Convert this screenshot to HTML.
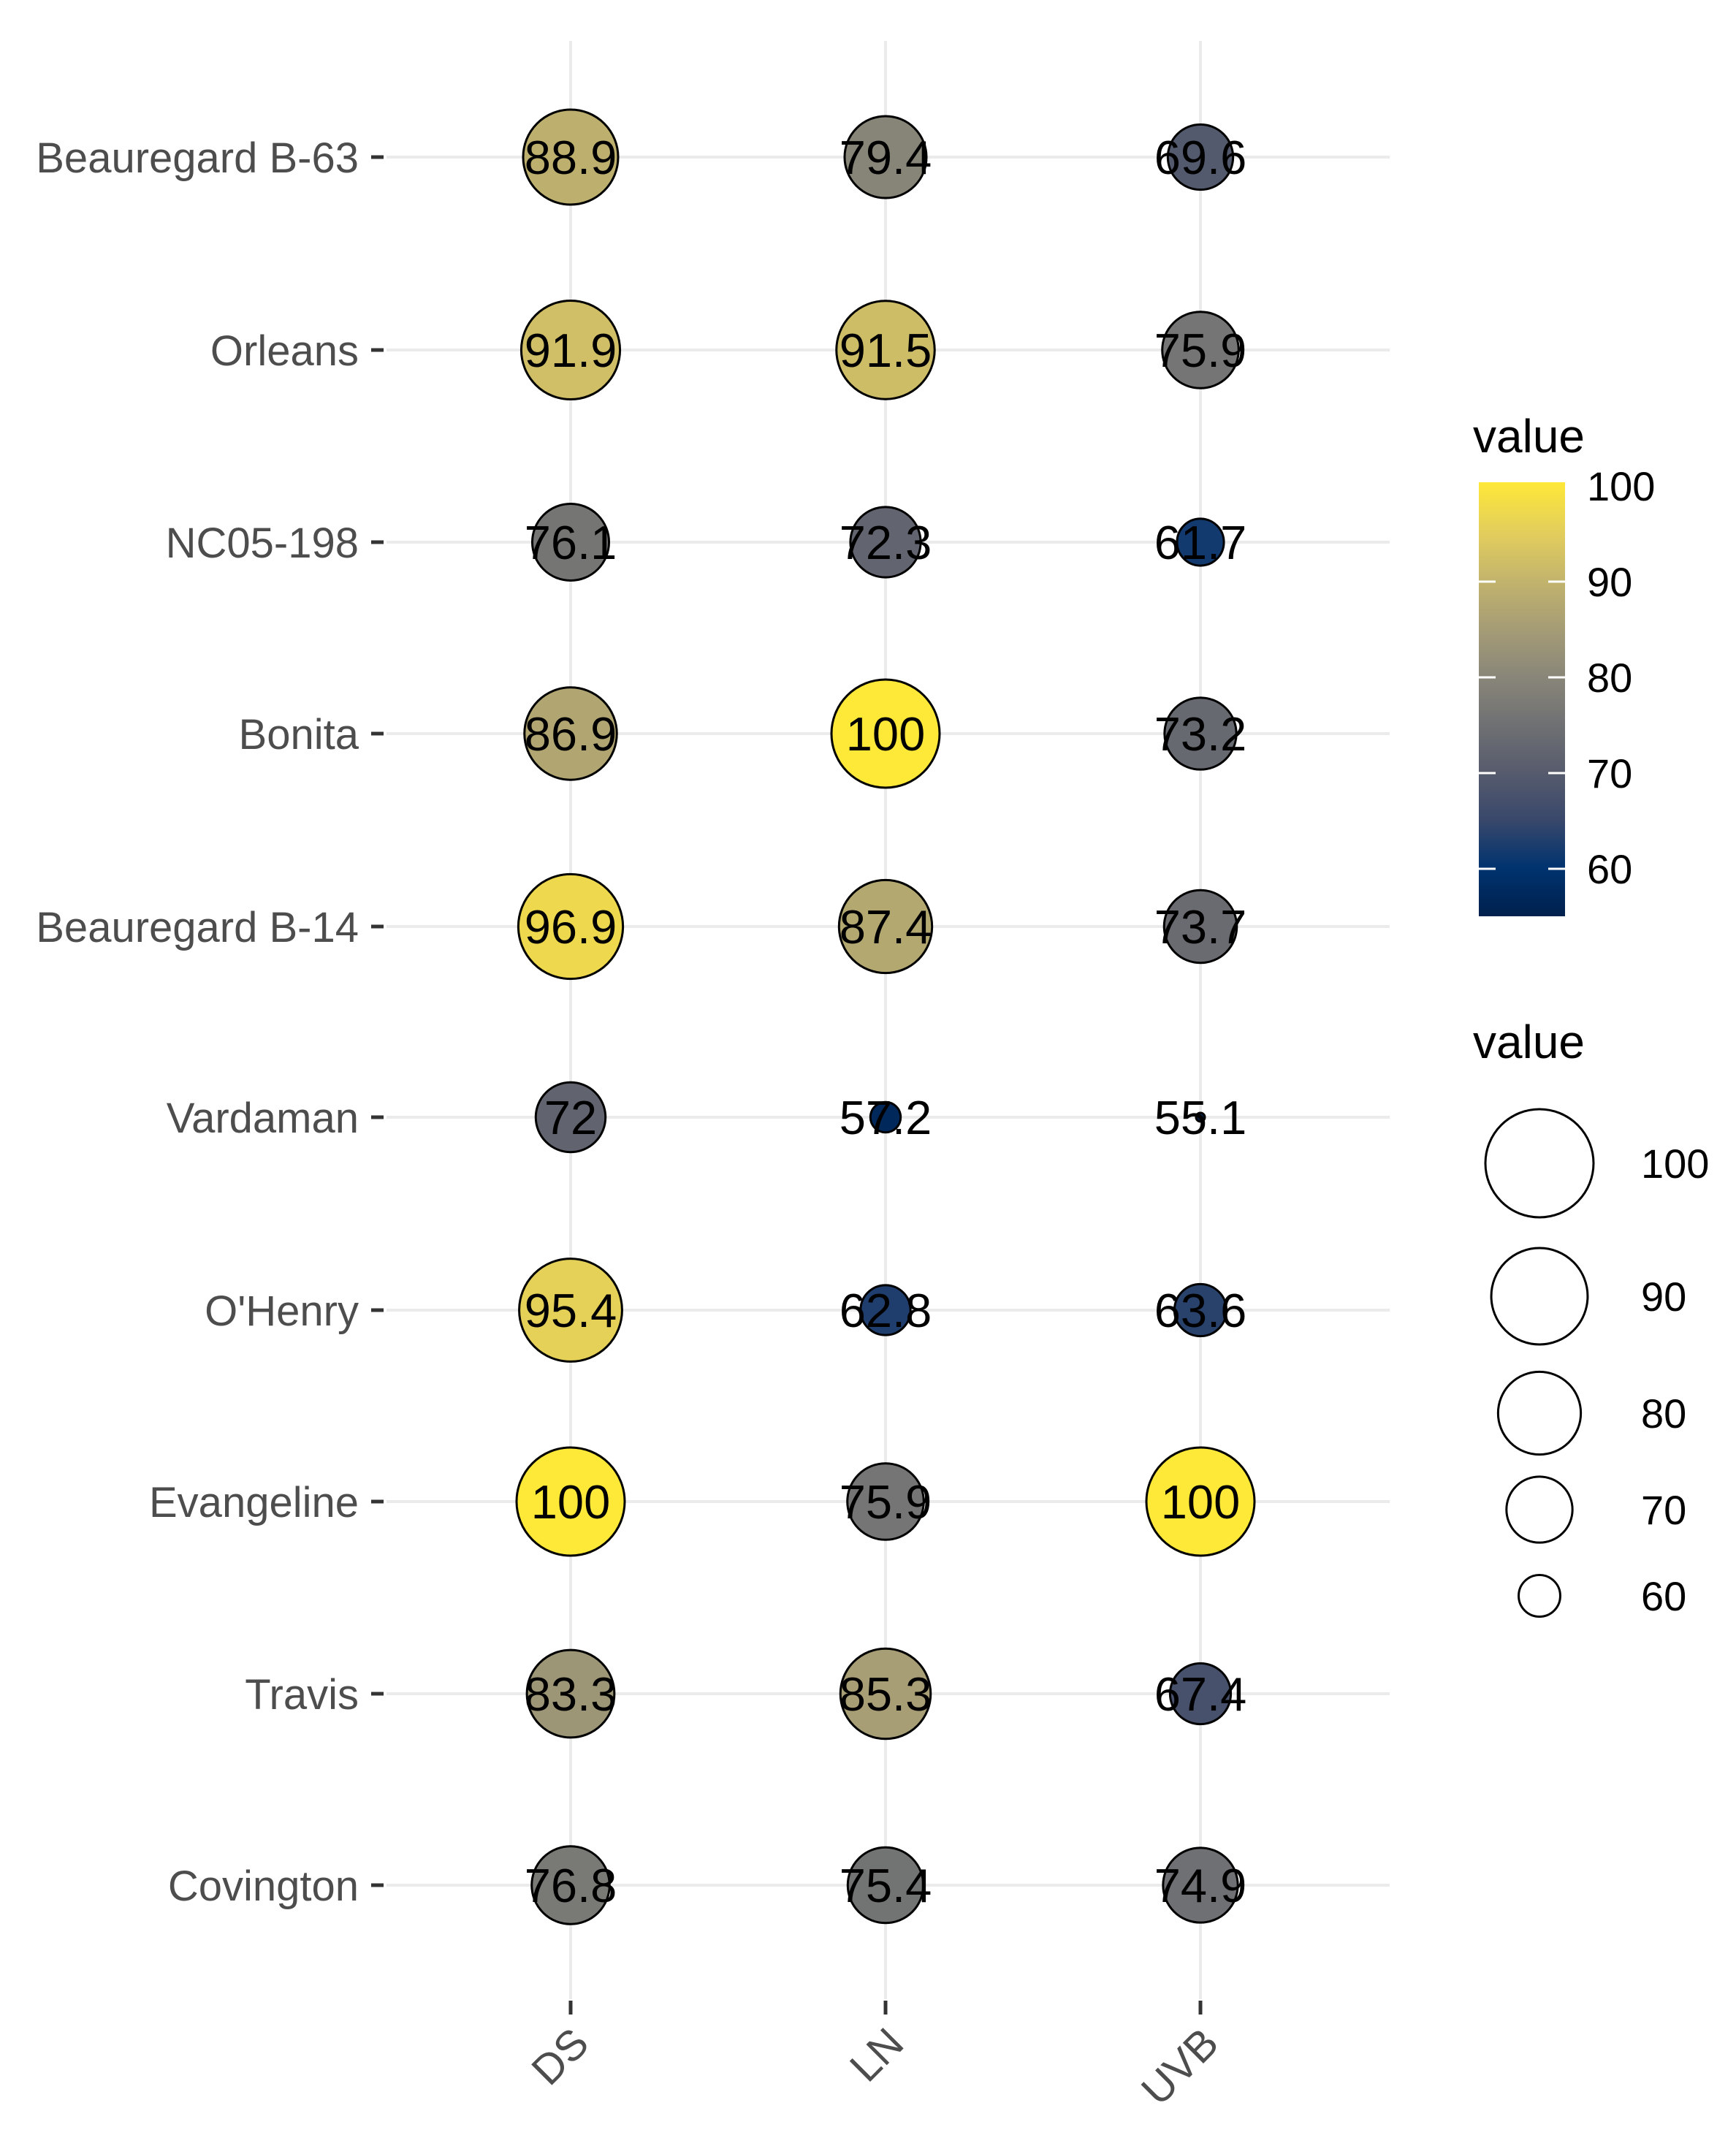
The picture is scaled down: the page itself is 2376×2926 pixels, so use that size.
<!DOCTYPE html>
<html><head><meta charset="utf-8"><style>html,body{margin:0;padding:0;background:#fff}svg{display:block}</style></head>
<body>
<svg id="s" xmlns="http://www.w3.org/2000/svg" width="2376" height="2926" viewBox="0 0 2376 2926" font-family="Liberation Sans, Arial, sans-serif">
<defs>
<linearGradient id="cg" x1="0" y1="1" x2="0" y2="0">
<stop offset="0" stop-color="#00204D"/><stop offset="0.1111" stop-color="#00336F"/><stop offset="0.2222" stop-color="#39486B"/><stop offset="0.3333" stop-color="#575C6D"/><stop offset="0.4444" stop-color="#707173"/><stop offset="0.5556" stop-color="#8A8779"/><stop offset="0.6667" stop-color="#A69D75"/><stop offset="0.7778" stop-color="#C4B56C"/><stop offset="0.8889" stop-color="#E4CF5B"/><stop offset="1" stop-color="#FEE838"/>
</linearGradient>
</defs>
<g id="g"></g>
</svg>
<script>
const rows=[["Beauregard B-63",88.9,79.4,69.6],["Orleans",91.9,91.5,75.9],["NC05-198",76.1,72.3,61.7],["Bonita",86.9,100,73.2],["Beauregard B-14",96.9,87.4,73.7],["Vardaman",72,57.2,55.1],["O'Henry",95.4,62.8,63.6],["Evangeline",100,75.9,100],["Travis",83.3,85.3,67.4],["Covington",76.8,75.4,74.9]];
const xs=[781,1212,1643], ys=[215,479,742,1004,1268,1529,1793,2055,2318,2580];
const stops=["00204D","00336F","39486B","575C6D","707173","8A8779","A69D75","C4B56C","E4CF5B","FEE838"].map(h=>[0,2,4].map(i=>parseInt(h.substr(i,2),16)));
const mn=55.1,mx=100;
function col(v){let t=(v-mn)/(mx-mn)*9;t=Math.max(0,Math.min(9,t));let i=Math.min(8,Math.floor(t)),f=t-i;let c=stops[i].map((a,k)=>Math.round(a+(stops[i+1][k]-a)*f));return `rgb(${c})`;}
function rad(v){return 6+68*Math.sqrt(Math.max(0,(v-mn)/(mx-mn)));}
let h='';
ys.forEach(y=>h+=`<line x1="529" x2="1902" y1="${y}" y2="${y}" stroke="#EBEBEB" stroke-width="4"/>`);
xs.forEach(x=>h+=`<line x1="${x}" x2="${x}" y1="56" y2="2736" stroke="#EBEBEB" stroke-width="4"/>`);
rows.forEach((r,i)=>{h+=`<text x="491" y="${ys[i]+21}" font-size="58" fill="#4D4D4D" text-anchor="end">${r[0].replace("'","&#39;")}</text><line x1="508" x2="525" y1="${ys[i]}" y2="${ys[i]}" stroke="#333" stroke-width="5"/>`;});
["DS","LN","UVB"].forEach((l,j)=>{h+=`<line x1="${xs[j]}" x2="${xs[j]}" y1="2738" y2="2757" stroke="#333" stroke-width="5"/><text transform="translate(${xs[j]+28},2800) rotate(-45)" font-size="58" fill="#4D4D4D" text-anchor="end">${l}</text>`;});
rows.forEach((r,i)=>{for(let j=0;j<3;j++){const v=r[j+1];h+=`<circle cx="${xs[j]}" cy="${ys[i]}" r="${rad(v)}" fill="${col(v)}" stroke="#000" stroke-width="3"/>`;}});
rows.forEach((r,i)=>{for(let j=0;j<3;j++){h+=`<text x="${xs[j]}" y="${ys[i]+23}" font-size="65" text-anchor="middle" fill="#000">${r[j+1]}</text>`;}});
h+=`<text x="2016" y="619" font-size="64" fill="#000">value</text>`;
h+=`<rect x="2024" y="660" width="118" height="594" fill="url(#cg)"/>`;
[100,90,80,70,60].forEach(v=>{const y=665+(100-v)*13.1;if(v<100)h+=`<line x1="2024" x2="2047" y1="${y}" y2="${y}" stroke="#fff" stroke-width="3"/><line x1="2119" x2="2142" y1="${y}" y2="${y}" stroke="#fff" stroke-width="3"/>`;h+=`<text x="2172" y="${y+20}" font-size="56" fill="#000">${v}</text>`;});
h+=`<text x="2016" y="1448" font-size="64" fill="#000">value</text>`;
[[100,1592],[90,1774],[80,1934],[70,2066],[60,2184]].forEach(([v,y])=>{h+=`<circle cx="2107" cy="${y}" r="${rad(v)}" fill="#fff" stroke="#000" stroke-width="3"/><text x="2246" y="${y+20}" font-size="56" fill="#000">${v}</text>`;});
document.getElementById('g').innerHTML=h;
</script>
</body></html>
